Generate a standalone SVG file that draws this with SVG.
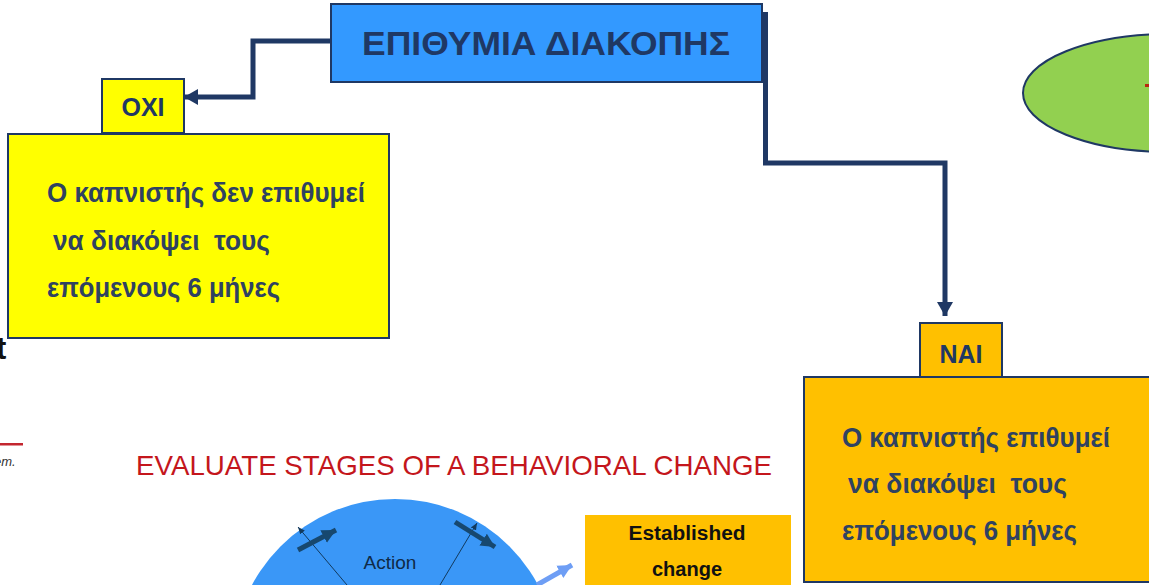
<svg xmlns="http://www.w3.org/2000/svg" width="1149" height="585" viewBox="0 0 1149 585">
  <style>
    .box { stroke: #1F3864; stroke-width: 2; }
    .body { font-family: "Liberation Sans Narrow", "Liberation Sans", Arial, sans-serif; font-weight: bold; font-size: 28px; fill: #2F4261; }
    .lbl { font-family: "Liberation Sans", Arial, sans-serif; font-weight: bold; fill: #1F3864; text-anchor: middle; }
    .conn { fill: none; stroke: #1F3864; stroke-width: 5; }
  </style>
  <defs>
    <marker id="arr" markerUnits="userSpaceOnUse" markerWidth="16" markerHeight="16" refX="14" refY="8" orient="auto">
      <path d="M0,0 L14,8 L0,16 Z" fill="#1F3864"/>
    </marker>
    <marker id="thin" markerUnits="userSpaceOnUse" markerWidth="8" markerHeight="8" refX="7" refY="4" orient="auto">
      <path d="M0,1 L7,4 L0,7 Z" fill="#123A5E"/>
    </marker>
    <marker id="thick" markerUnits="userSpaceOnUse" markerWidth="16" markerHeight="16" refX="14" refY="8" orient="auto">
      <path d="M0,1 L14,8 L0,15 Z" fill="#17486F"/>
    </marker>
    <marker id="light" markerUnits="userSpaceOnUse" markerWidth="16" markerHeight="16" refX="14" refY="8" orient="auto">
      <path d="M0,1 L14,8 L0,15 Z" fill="#6E9EF5"/>
    </marker>
  </defs>

  <rect width="1149" height="585" fill="#ffffff"/>

  <!-- background slide fragments -->
  <g id="background">
    <text x="-4" y="359" font-family="Liberation Sans, Arial, sans-serif" font-weight="bold" font-size="31" fill="#111">t</text>
    <rect x="0" y="443" width="23" height="2.5" fill="#C3262F"/>
    <text x="-6" y="466" font-family="Liberation Sans, Arial, sans-serif" font-style="italic" font-size="13" fill="#333">em.</text>
    <text x="136" y="475" font-family="Liberation Sans, Arial, sans-serif" font-size="28" fill="#C4161C" textLength="636" lengthAdjust="spacingAndGlyphs">EVALUATE STAGES OF A BEHAVIORAL CHANGE</text>
    <circle cx="395" cy="661" r="162" fill="#3A97F7"/>
    <line x1="347" y1="585" x2="298" y2="527" stroke="#123A5E" stroke-width="1" marker-end="url(#thin)"/>
    <line x1="440" y1="585" x2="477" y2="523" stroke="#123A5E" stroke-width="1" marker-end="url(#thin)"/>
    <line x1="298" y1="550" x2="336" y2="530" stroke="#17486F" stroke-width="5" marker-end="url(#thick)"/>
    <line x1="455" y1="522" x2="495" y2="547" stroke="#17486F" stroke-width="5" marker-end="url(#thick)"/>
    <line x1="537" y1="585" x2="572" y2="565" stroke="#6E9EF5" stroke-width="5" marker-end="url(#light)"/>
    <text x="390" y="569" font-family="Liberation Sans, Arial, sans-serif" font-size="19" fill="#0F2A47" text-anchor="middle">Action</text>
    <rect x="585" y="515" width="206" height="80" fill="#FFC000"/>
    <text x="687" y="540" font-family="Liberation Sans, Arial, sans-serif" font-weight="bold" font-size="20" fill="#111" text-anchor="middle" textLength="117" lengthAdjust="spacingAndGlyphs">Established</text>
    <text x="687" y="576" font-family="Liberation Sans, Arial, sans-serif" font-weight="bold" font-size="20" fill="#111" text-anchor="middle">change</text>
    <ellipse cx="1170" cy="93" rx="147" ry="59" fill="#92D050" stroke="#1F3864" stroke-width="2"/>
    <rect x="1145" y="84" width="4" height="3" fill="#B8290E"/>
  </g>

  <!-- connectors -->
  <g id="connectors">
    <path class="conn" d="M330,41 H253 V97 H184" marker-end="url(#arr)"/>
    <path class="conn" d="M765.5,12 V163 H945 V316" marker-end="url(#arr)"/>
  </g>

  <g id="node-main">
    <rect class="box" x="331" y="4" width="431" height="78" fill="#3399FF"/>
    <text class="lbl" x="546" y="55" font-size="33" textLength="368" lengthAdjust="spacingAndGlyphs">ΕΠΙΘΥΜΙΑ ΔΙΑΚΟΠΗΣ</text>
  </g>

  <g id="node-oxi">
    <rect class="box" x="102" y="79" width="82" height="54" fill="#FFFF00"/>
    <text class="lbl" x="143" y="116" font-size="25">ΟΧΙ</text>
  </g>

  <g id="node-no">
    <rect class="box" x="8" y="134" width="381" height="204" fill="#FFFF00"/>
    <text class="body" x="47" y="202" textLength="318" lengthAdjust="spacingAndGlyphs">Ο καπνιστής δεν επιθυμεί</text>
    <text class="body" x="53" y="250" textLength="217" lengthAdjust="spacingAndGlyphs" xml:space="preserve">να διακόψει  τους</text>
    <text class="body" x="47" y="297" textLength="233" lengthAdjust="spacingAndGlyphs">επόμενους 6 μήνες</text>
  </g>

  <g id="node-nai">
    <rect class="box" x="920" y="323" width="82" height="54" fill="#FFC000"/>
    <text class="lbl" x="961" y="363" font-size="25">ΝΑΙ</text>
  </g>

  <g id="node-yes">
    <rect class="box" x="804" y="377" width="360" height="205" fill="#FFC000"/>
    <text class="body" x="842" y="447" textLength="268" lengthAdjust="spacingAndGlyphs">Ο καπνιστής επιθυμεί</text>
    <text class="body" x="848" y="493" textLength="219" lengthAdjust="spacingAndGlyphs" xml:space="preserve">να διακόψει  τους</text>
    <text class="body" x="842" y="540" textLength="235" lengthAdjust="spacingAndGlyphs">επόμενους 6 μήνες</text>
  </g>
</svg>
